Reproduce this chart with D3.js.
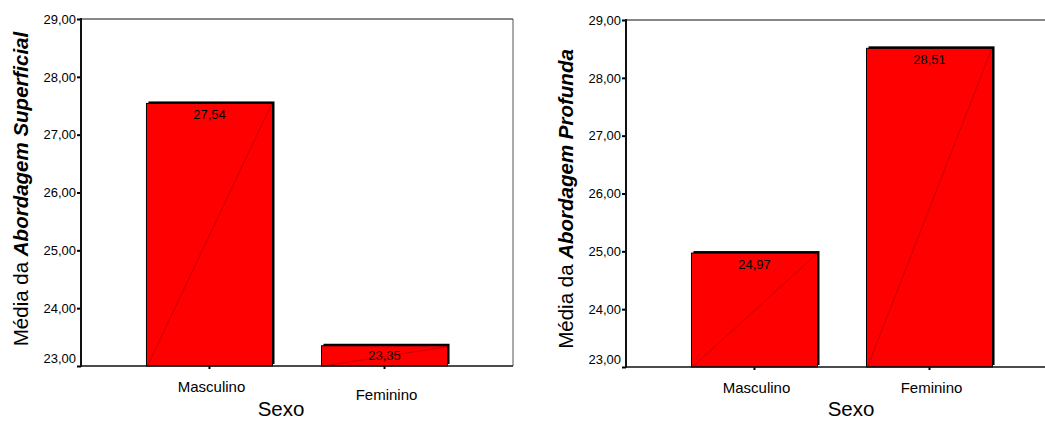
<!DOCTYPE html>
<html>
<head>
<meta charset="utf-8">
<script src="https://cdn.jsdelivr.net/npm/d3@7/dist/d3.min.js"></script>
<style>
  html, body { margin: 0; padding: 0; background: #fff; }
  svg { display: block; font-family: "Liberation Sans", Arial, sans-serif; }
</style>
</head>
<body>
<svg id="chart" width="1045" height="421"></svg>
<script>
// Mean scores by sex for the two study approaches
const categories = ["Masculino", "Feminino"];
const superficialMeans = [27.54, 23.35];
const profundaMeans = [24.97, 28.51];
const yTicks = [23, 24, 25, 26, 27, 28, 29];
const xTitle = "Sexo";

const svg = d3.select("#chart");
const fmt = v => d3.format(".2f")(v).replace(".", ",");

function drawPanel(cfg) {
  const g = svg.append("g");
  const x = d3.scaleBand()
    .domain(categories)
    .range([cfg.left, cfg.left + 432])
    .paddingInner(0.28)
    .paddingOuter(0.374);
  const y = d3.scaleLinear().domain([23, 29]).range([cfg.bottom, cfg.top]);
  const x0 = cfg.left, x1 = cfg.left + 432;

  // frame: thin top and right edges
  g.append("line").attr("x1", x0).attr("x2", x1).attr("y1", y(29)).attr("y2", y(29))
    .attr("stroke", "#111").attr("stroke-width", 1);
  g.append("line").attr("x1", x1).attr("x2", x1).attr("y1", y(29)).attr("y2", y(23))
    .attr("stroke", "#555").attr("stroke-width", 1);

  // bars with offset dark shadow and a thin diagonal
  const bars = g.selectAll("g.bar").data(categories.map((c, i) => ({ c, v: cfg.values[i] })))
    .enter().append("g").attr("class", "bar");
  bars.append("rect")
    .attr("x", d => x(d.c) + 2)
    .attr("y", d => y(d.v) - 2)
    .attr("width", x.bandwidth())
    .attr("height", d => y(23) - y(d.v))
    .attr("fill", "#000");
  bars.append("rect")
    .attr("x", d => x(d.c))
    .attr("y", d => y(d.v))
    .attr("width", x.bandwidth())
    .attr("height", d => y(23) - y(d.v))
    .attr("fill", "#ff0000")
    .attr("stroke", "#000")
    .attr("stroke-width", 1);
  bars.append("line")
    .attr("x1", d => x(d.c) + 1)
    .attr("y1", y(23))
    .attr("x2", d => x(d.c) + x.bandwidth() - 1)
    .attr("y2", d => y(d.v) + 1)
    .attr("stroke", "#a00000")
    .attr("stroke-width", 0.6);
  bars.append("text")
    .attr("x", d => x(d.c) + x.bandwidth() / 2)
    .attr("y", d => {
      const h = y(23) - y(d.v);
      return h < 30 ? y(d.v) + h / 2 + 4.5 : y(d.v) + 15.5;
    })
    .attr("text-anchor", "middle")
    .attr("font-size", 13)
    .attr("fill", "#000")
    .text(d => fmt(d.v));

  // y axis
  const yAxis = d3.axisLeft(y).tickValues(yTicks).tickSize(4).tickPadding(1).tickFormat(fmt);
  const ya = g.append("g").attr("transform", `translate(${x0},0)`).call(yAxis);
  ya.select(".domain").remove();
  ya.selectAll(".tick line").attr("stroke", "#000").attr("stroke-width", 2);
  ya.selectAll(".tick text")
    .attr("font-size", 13)
    .attr("font-family", "'Liberation Sans', Arial, sans-serif")
    .attr("fill", "#000")
    .attr("dy", d => d === 23 ? "-0.3em" : "0.32em");

  // x axis
  const xAxis = d3.axisBottom(x).tickSize(3).tickPadding(0).tickFormat("");
  const xa = g.append("g").attr("transform", `translate(0,${y(23)})`).call(xAxis);
  xa.select(".domain").remove();
  xa.selectAll(".tick line").attr("stroke", "#000").attr("stroke-width", 2);

  // axis lines
  g.append("line").attr("x1", x0 - 1).attr("x2", x1).attr("y1", y(23)).attr("y2", y(23))
    .attr("stroke", "#111").attr("stroke-width", 1.5);
  g.append("line").attr("x1", x0).attr("x2", x0).attr("y1", y(29) - 1).attr("y2", y(23) + 1)
    .attr("stroke", "#111").attr("stroke-width", 2);

  // category labels
  g.selectAll("text.cat").data(categories).enter().append("text")
    .attr("class", "cat")
    .attr("x", d => x(d) + x.bandwidth() / 2 + 2)
    .attr("y", (d, i) => cfg.bottom + cfg.catOffsets[i])
    .attr("text-anchor", "middle")
    .attr("font-size", 15)
    .attr("fill", "#000")
    .text(d => d);

  // axis titles
  g.append("text")
    .attr("x", cfg.xTitleX).attr("y", 416)
    .attr("text-anchor", "middle")
    .attr("font-size", 20.5)
    .attr("fill", "#000")
    .text(xTitle);

  const yt = g.append("text")
    .attr("transform", `translate(${cfg.yTitleX},${cfg.yTitleY}) rotate(-90)`)
    .attr("text-anchor", "middle")
    .attr("font-size", 20.5)
    .attr("fill", "#000");
  yt.append("tspan").text("Média da ");
  yt.append("tspan").attr("font-weight", "bold").attr("font-style", "italic").text(cfg.yBold);
}

drawPanel({
  left: 81, top: 19, bottom: 366,
  values: superficialMeans,
  yBold: "Abordagem Superficial",
  yTitleX: 27.5, yTitleY: 189,
  xTitleX: 281,
  catOffsets: [26, 34]
});

drawPanel({
  left: 626, top: 20, bottom: 367,
  values: profundaMeans,
  yBold: "Abordagem Profunda",
  yTitleX: 573, yTitleY: 199,
  xTitleX: 851,
  catOffsets: [26, 26]
});
</script>
</body>
</html>
